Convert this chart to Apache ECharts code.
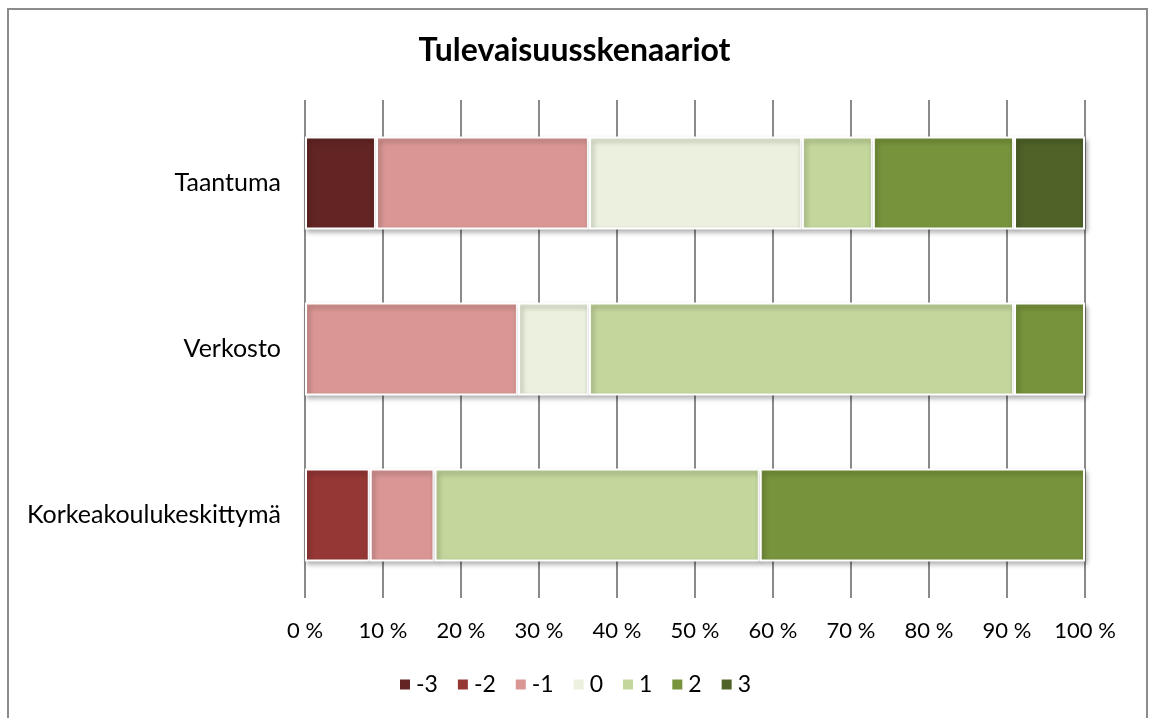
<!DOCTYPE html>
<html>
<head>
<meta charset="utf-8">
<script src="https://cdn.jsdelivr.net/npm/echarts@6/dist/echarts.min.js"></script>
<style>
  html, body { margin: 0; padding: 0; background: #fff; }
  #chart { width: 1149px; height: 718px; }
</style>
</head>
<body>
<div id="chart"></div>
<script>
// kategoriat (alhaalta ylös)
const categories = ['Korkeakoulukeskittymä', 'Verkosto', 'Taantuma'];
const seriesNames = ['-3', '-2', '-1', '0', '1', '2', '3'];

// osuudet prosentteina, luettu kuvasta
const valMinus3 = [null, null, 9.1];
const valMinus2 = [8.3, null, null];
const valMinus1 = [8.3, 27.3, 27.3];
const valZero = [null, 9.1, 27.3];
const valPlus1 = [41.7, 54.5, 9.1];
const valPlus2 = [41.7, 9.1, 18.1];
const valPlus3 = [null, null, 9.1];

const seriesValues = [valMinus3, valMinus2, valMinus1, valZero, valPlus1, valPlus2, valPlus3];
const colors = ['#632523', '#953735', '#D99694', '#EBF1DE', '#C3D69B', '#77933C', '#4F6228'];

const fontFamily = 'Lato, "DejaVu Sans", sans-serif';

const chart = echarts.init(document.getElementById('chart'));

const option = {
  animation: false,
  textStyle: { fontFamily: fontFamily },
  title: {
    text: 'Tulevaisuusskenaariot',
    left: 'center',
    top: 30,
    textStyle: { fontSize: 32, fontWeight: 'bold', color: '#000', fontFamily: fontFamily }
  },
  legend: {
    bottom: 17,
    left: 'center',
    itemWidth: 12,
    itemHeight: 12,
    itemGap: 18,
    icon: 'rect',
    textStyle: { fontSize: 23, color: '#000', fontFamily: fontFamily },
    data: seriesNames
  },
  grid: {
    left: 305,
    right: 64,
    top: 100,
    bottom: 120
  },
  xAxis: {
    type: 'value',
    min: 0,
    max: 100,
    interval: 10,
    axisLine: { show: false },
    axisTick: { show: false },
    axisLabel: {
      formatter: '{value} %',
      fontSize: 22,
      color: '#000',
      margin: 22
    },
    splitLine: { show: true, lineStyle: { color: '#8a8a8a', width: 2 } }
  },
  yAxis: {
    type: 'category',
    data: categories,
    axisLine: { show: false },
    axisTick: { show: false },
    axisLabel: { fontSize: 25, color: '#000', margin: 24 }
  },
  graphic: [{
    type: 'rect',
    shape: { x: 8, y: 9, width: 1139, height: 760 },
    style: { fill: 'none', stroke: '#8c8c8c', lineWidth: 2 },
    silent: true
  }],
  series: seriesNames.map((name, i) => ({
    name: name,
    type: 'bar',
    stack: 'total',
    barWidth: '56%',
    data: seriesValues[i],
    itemStyle: {
      color: colors[i],
      borderColor: '#fff',
      borderWidth: 2,
      shadowColor: 'rgba(0,0,0,0.35)',
      shadowBlur: 5,
      shadowOffsetX: 2,
      shadowOffsetY: 3
    }
  }))
};

chart.setOption(option);
</script>
</body>
</html>
